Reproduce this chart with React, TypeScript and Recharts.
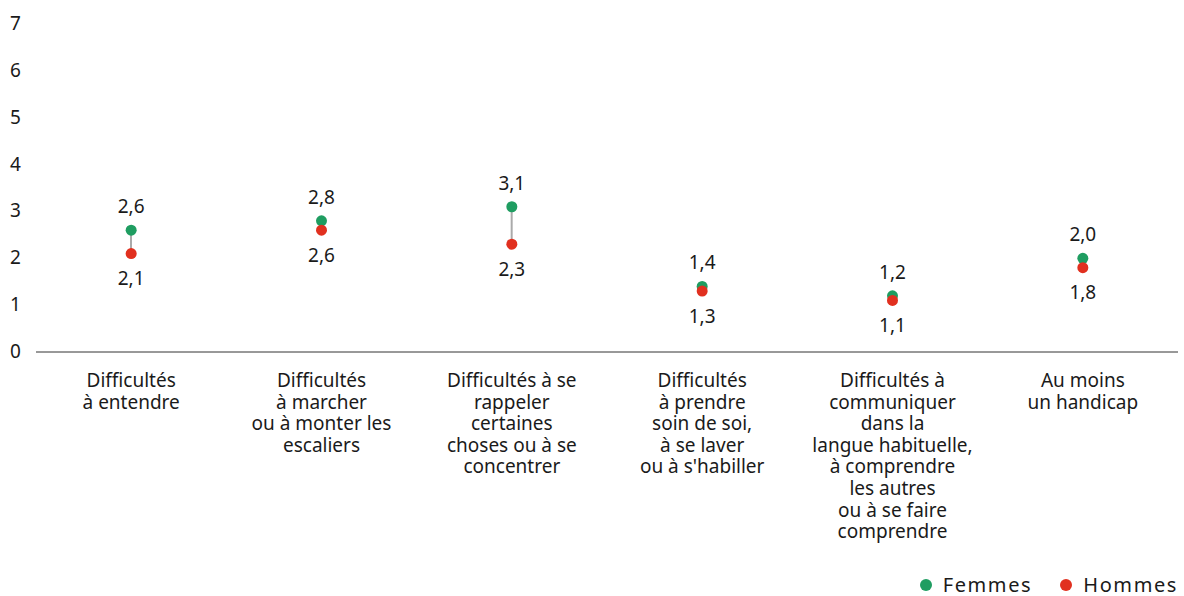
import React from 'react';
import { ComposedChart, Bar, Line, XAxis, YAxis, Legend, LabelList } from 'recharts';

const categories = [
    'Difficultés\nà entendre',
    'Difficultés\nà marcher\nou à monter les\nescaliers',
    'Difficultés à se\nrappeler\ncertaines\nchoses ou à se\nconcentrer',
    'Difficultés\nà prendre\nsoin de soi,\nà se laver\nou à s\'habiller',
    'Difficultés à\ncommuniquer\ndans la\nlangue habituelle,\nà comprendre\nles autres\nou à se faire\ncomprendre',
    'Au moins\nun handicap',
];
const femmes = [2.6, 2.8, 3.1, 1.4, 1.2, 2.0];
const hommes = [2.1, 2.6, 2.3, 1.3, 1.1, 1.8];
const yTicks = [0, 1, 2, 3, 4, 5, 6, 7];

const GREEN = '#1f9d61';
const RED = '#e1301f';
const TEXT = '#1a1a1a';
const FONT = '"Noto Sans", sans-serif';

const data = categories.map((cat, i) => ({
    cat,
    femmes: femmes[i],
    hommes: hommes[i],
    range: [hommes[i], femmes[i]],
}));

const fmt = (v: any) => Number(v).toFixed(1).replace('.', ',');

const CategoryTick = (props: any) => {
    const { x, y, payload } = props;
    const lines = String(payload.value).split('\n');
    return (
        <text x={x} y={y} textAnchor="middle" fill={TEXT} fontSize={19} fontFamily={FONT}>
            {lines.map((line, i) => (
                <tspan key={i} x={x} dy={i === 0 ? 27 : 21.6}>{line}</tspan>
            ))}
        </text>
    );
};

const ValueTick = (props: any) => {
    const { y, payload } = props;
    return (
        <text x={10} y={y} dy={6} textAnchor="start" fill={TEXT} fontSize={19} fontFamily={FONT}>
            {payload.value}
        </text>
    );
};

const LegendContent = () => (
    <div style={{ display: 'flex', justifyContent: 'flex-end', alignItems: 'center', fontFamily: FONT, fontSize: 20, color: TEXT, paddingRight: 0, paddingTop: 11, letterSpacing: 1.6 }}>
        {[{ name: 'Femmes', color: GREEN }, { name: 'Hommes', color: RED }].map(item => (
            <div key={item.name} style={{ display: 'flex', alignItems: 'center', marginLeft: 28 }}>
                <span style={{ width: 12, height: 12, borderRadius: '50%', background: item.color, display: 'inline-block', marginRight: 11 }} />
                <span>{item.name}</span>
            </div>
        ))}
    </div>
);

export default function App() {
    return (
        <div style={{ position: 'absolute', left: 0, top: 0, background: '#fff' }}>
            <ComposedChart width={1184} height={596} data={data} margin={{ top: 24, right: 6, left: 0, bottom: 0 }}>
                <XAxis
                    dataKey="cat"
                    interval={0}
                    tickLine={false}
                    axisLine={{ stroke: '#333', strokeWidth: 1 }}
                    tick={<CategoryTick />}
                    height={208}
                />
                <YAxis
                    domain={[0, 7]}
                    ticks={yTicks}
                    width={36}
                    axisLine={false}
                    tickLine={false}
                    tick={<ValueTick />}
                />
                <Legend verticalAlign="bottom" align="right" height={36} content={<LegendContent />} />
                <Bar dataKey="range" barSize={2} fill="#aaaaaa" isAnimationActive={false} legendType="none" />
                <Line
                    dataKey="femmes"
                    stroke="none"
                    dot={{ r: 5.5, fill: GREEN, stroke: 'none' }}
                    activeDot={false}
                    isAnimationActive={false}
                >
                    <LabelList dataKey="femmes" position="top" offset={17} formatter={fmt} fill={TEXT} fontSize={19} fontFamily={FONT} />
                </Line>
                <Line
                    dataKey="hommes"
                    stroke="none"
                    dot={{ r: 5.5, fill: RED, stroke: 'none' }}
                    activeDot={false}
                    isAnimationActive={false}
                >
                    <LabelList dataKey="hommes" position="bottom" offset={18} formatter={fmt} fill={TEXT} fontSize={19} fontFamily={FONT} />
                </Line>
            </ComposedChart>
        </div>
    );
}
